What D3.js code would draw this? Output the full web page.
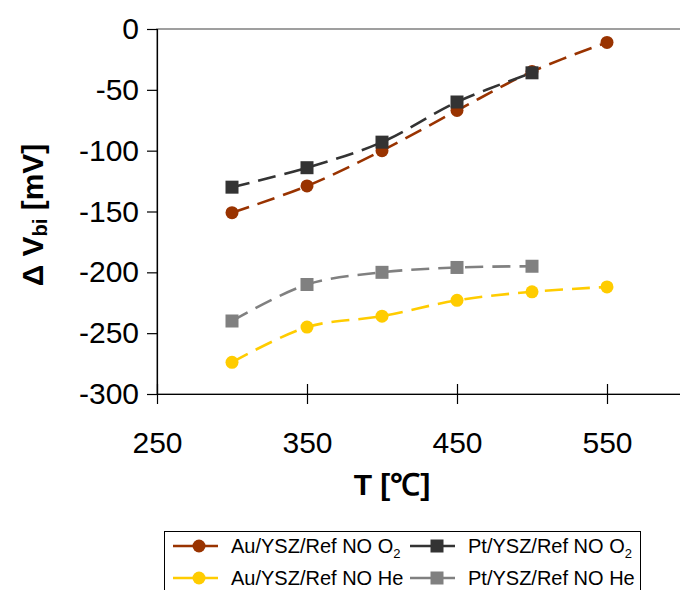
<!DOCTYPE html>
<html>
<head>
<meta charset="utf-8">
<script src="https://cdn.jsdelivr.net/npm/d3@7/dist/d3.min.js"></script>
<style>
  html, body { margin: 0; padding: 0; background: #fff; }
  svg { display: block; }
  text { font-family: "Liberation Sans", Arial, sans-serif; }
</style>
</head>
<body>
<svg id="chart" width="680" height="590"></svg>
<script>
// ---- Data ----
const temperatures = [300, 350, 400, 450, 500, 550];
const auO2 = [-151, -129, -100, -67, -35, -11];
const ptO2 = [-130, -114, -93, -60, -36];
const auHe = [-274, -245, -236, -223, -216, -212];
const ptHe = [-240, -210, -200, -196, -195];
const xTicks = [250, 350, 450, 550];
const yTicks = [0, -50, -100, -150, -200, -250, -300];

const seriesList = [
  { name: "Au/YSZ/Ref NO O", sub: "2", values: auO2, color: "#993300", shape: "circle" },
  { name: "Pt/YSZ/Ref NO O", sub: "2", values: ptO2, color: "#333333", shape: "square" },
  { name: "Au/YSZ/Ref NO He", sub: "", values: auHe, color: "#FFCC00", shape: "circle" },
  { name: "Pt/YSZ/Ref NO He", sub: "", values: ptHe, color: "#808080", shape: "square" }
];

const FONT = "'Liberation Sans', Arial, sans-serif";

// ---- Layout ----
const svg = d3.select("#chart");
const pLeft = 157, pTop = 29, pBottom = 394, pRight = 682;
const x = d3.scaleLinear().domain([250, 600]).range([pLeft, pRight]);
const y = d3.scaleLinear().domain([-300, 0]).range([pBottom, pTop]);

// plot area border (grey)
svg.append("rect")
  .attr("x", pLeft).attr("y", pTop)
  .attr("width", pRight - pLeft).attr("height", pBottom - pTop)
  .attr("fill", "none").attr("stroke", "#808080").attr("stroke-width", 1.5);

// axes
const yAxis = d3.axisLeft(y).tickValues(yTicks).tickSize(10).tickPadding(8)
  .tickFormat(d3.format("d"));
const yG = svg.append("g").attr("transform", `translate(${pLeft},0)`).call(yAxis);
yG.select(".domain").attr("stroke", "#000").attr("stroke-width", 1.2);
yG.selectAll(".tick line").attr("stroke", "#000").attr("stroke-width", 1.2);
yG.selectAll(".tick text").attr("font-size", 30).attr("fill", "#000")
  .attr("font-family", FONT)
  .text(d => d === 0 ? "0" : "-" + Math.abs(d));

const xAxis = d3.axisBottom(x).tickValues(xTicks).tickSizeInner(10).tickSizeOuter(0).tickPadding(26);
const xG = svg.append("g").attr("transform", `translate(0,${pBottom})`).call(xAxis);
xG.select(".domain").attr("stroke", "#000").attr("stroke-width", 1.2);
xG.selectAll(".tick line").attr("stroke", "#000").attr("stroke-width", 1.2).attr("y1", -10).attr("y2", 10);
xG.selectAll(".tick text").attr("font-size", 30).attr("fill", "#000")
  .attr("font-family", FONT)
  .attr("dy", "0").attr("y", 59);

// axis titles
svg.append("text").attr("x", 392).attr("y", 495).attr("text-anchor", "middle")
  .attr("font-family", FONT)
  .attr("font-size", 30).attr("font-weight", "bold").text("T [℃]");

const yt = svg.append("text")
  .attr("transform", "translate(43,215) rotate(-90)")
  .attr("font-family", FONT)
  .attr("text-anchor", "middle").attr("font-size", 30).attr("font-weight", "bold");
yt.append("tspan").text("Δ V");
yt.append("tspan").attr("font-size", 20).attr("dy", 4).text("bi");
yt.append("tspan").attr("dy", -4).text(" [mV]");

// series
const line = d3.line().x(d => x(d[0])).y(d => y(d[1])).curve(d3.curveCatmullRom.alpha(0.5));
const plot = svg.append("g");
seriesList.forEach(s => {
  const pts = s.values.map((v, i) => [temperatures[i], v]);
  plot.append("path").datum(pts).attr("d", line)
    .attr("fill", "none").attr("stroke", s.color).attr("stroke-width", 2.6)
    .attr("stroke-dasharray", "18,9");
  if (s.shape === "circle") {
    plot.selectAll(null).data(pts).enter().append("circle")
      .attr("cx", d => x(d[0])).attr("cy", d => y(d[1])).attr("r", 6.5)
      .attr("fill", s.color);
  } else {
    plot.selectAll(null).data(pts).enter().append("rect")
      .attr("x", d => x(d[0]) - 6.5).attr("y", d => y(d[1]) - 6.5)
      .attr("width", 13).attr("height", 13).attr("fill", s.color);
  }
});

// legend
const lg = svg.append("g");
lg.append("rect").attr("x", 164.5).attr("y", 531.5).attr("width", 476).attr("height", 70)
  .attr("fill", "#fff").attr("stroke", "#000").attr("stroke-width", 1);
const colX = [173, 410];
const rowY = [546, 578];
seriesList.forEach((s, i) => {
  const cx = colX[i % 2], cy = rowY[Math.floor(i / 2)];
  lg.append("line").attr("x1", cx).attr("x2", cx + 45).attr("y1", cy).attr("y2", cy)
    .attr("stroke", s.color).attr("stroke-width", 2.6);
  if (s.shape === "circle") {
    lg.append("circle").attr("cx", cx + 26).attr("cy", cy).attr("r", 6.5).attr("fill", s.color);
  } else {
    lg.append("rect").attr("x", cx + 27 - 6.5).attr("y", cy - 6.5).attr("width", 13).attr("height", 13).attr("fill", s.color);
  }
  const t = lg.append("text").attr("x", cx + 58).attr("y", cy + 7)
    .attr("font-family", FONT).attr("font-size", 20).attr("fill", "#000");
  t.append("tspan").text(s.name);
  if (s.sub) t.append("tspan").attr("font-size", 13).attr("dy", 5).text(s.sub);
});
</script>
</body>
</html>
